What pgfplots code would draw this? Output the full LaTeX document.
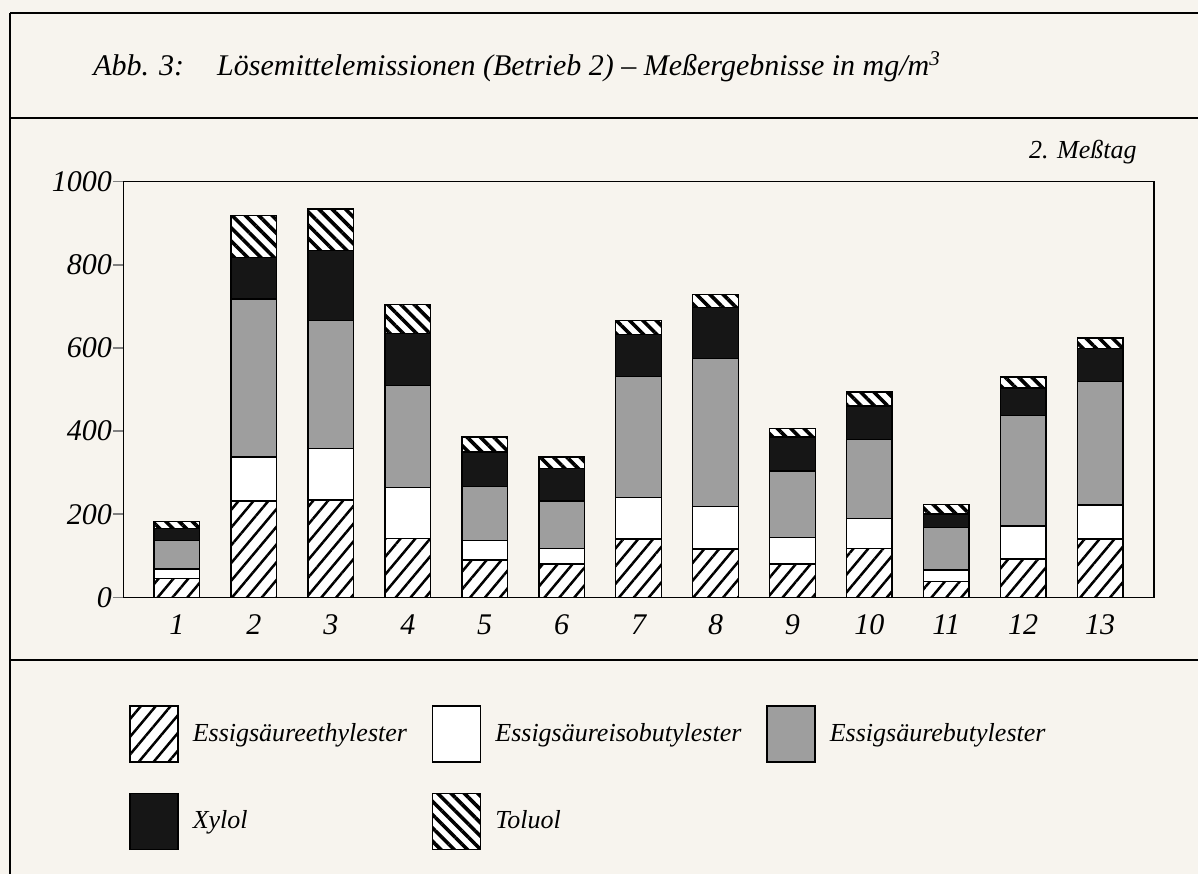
\documentclass[border=0pt]{standalone}
\usepackage{fontspec}
\setmainfont{Liberation Serif}
\usepackage{pgfplots}
\usepackage{pgfplotstable}
\pgfplotsset{compat=1.18}
\usetikzlibrary{patterns.meta}
\definecolor{bg}{RGB}{247,244,238}
\definecolor{butyl}{RGB}{158,158,158}
\definecolor{xyl}{RGB}{22,22,22}

\pgfplotstableread{
x  eth iso but xyl tol
1  46  22  68  30  16
2  232 106 380 100 100
3  234 124 308 169 99
4  142 122 246 125 69
5  90  46  130 84  36
6  80  38  114 78  28
7  140 100 292 100 34
8  116 102 356 124 30
9  80  64  160 82  20
10 118 72  190 80  34
11 38  28  102 32  24
12 92  80  266 66  26
13 140 82  298 78  26
}\data

\pgfplotsset{
  legbox/.style={/pgfplots/legend image code/.code={\draw[##1, line width=0.7pt] (0pt,-14pt) rectangle (24pt,14pt);}},
}

\begin{document}
\begin{tikzpicture}
\useasboundingbox (0pt,0pt) rectangle (599pt,-437pt);
\fill[bg] (0pt,0pt) rectangle (599pt,-437pt);
% frame
\draw[line width=1pt] (5pt,-6.35pt) -- (599pt,-6.35pt);
\draw[line width=1pt] (5pt,-59pt) -- (599pt,-59pt);
\draw[line width=1pt] (5pt,-330pt) -- (599pt,-330pt);
\draw[line width=1pt] (5pt,-6.35pt) -- (5pt,-437pt);
\node[anchor=west, inner sep=0pt, font=\fontsize{15}{17}\selectfont\itshape] at (46.5pt,-33.5pt)
  {Abb. 3:\hspace{1.1em}Lösemittelemissionen (Betrieb 2) – Meßergebnisse in mg/m\textsuperscript{3}};
\node[anchor=east, inner sep=0pt, font=\fontsize{13}{15}\selectfont\itshape] at (568.5pt,-76pt) {2. Meßtag};

\begin{axis}[
  at={(61.65pt,-298.65pt)}, anchor=south west, scale only axis,
  width=515.35pt, height=207.8pt,
  ybar stacked, bar width=22.8pt,
  xmin=0.302, xmax=13.70, ymin=0, ymax=1000,
  xtick={1,...,13}, xticklabels={1,2,3,4,5,6,7,8,9,10,11,12,13},
  ytick={0,200,...,1000}, yticklabels={0,200,400,600,800,1000},
  xtick style={draw=none},
  ytick style={line width=0.7pt},
  ytick pos=left,
  tick align=outside, major tick length=5pt,
  axis line style={line width=0.75pt},
  ticklabel style={font=\fontsize{15}{18}\selectfont\itshape},
  yticklabel style={inner sep=0.5pt},
  legend columns=3,
  legend cell align=left,
  legend style={draw=none, fill=none, at={(axis description cs:0.0055,-0.259)}, anchor=north west,
    font=\fontsize{13}{15}\selectfont\itshape,
    /tikz/every odd column/.append style={column sep=5pt},
    /tikz/every even column/.append style={column sep=10.5pt},
    row sep=15pt, inner sep=0pt},
]
\addplot[legbox, draw=black, line width=0.7pt, fill=white,
  postaction={pattern={Lines[angle=50,distance=5.7pt,line width=1.25pt]}}] table[x=x,y=eth]{\data};
\addplot[legbox, draw=black, line width=0.7pt, fill=white] table[x=x,y=iso]{\data};
\addplot[legbox, draw=black, line width=0.7pt, fill=butyl] table[x=x,y=but]{\data};
\addplot[legbox, draw=black, line width=0.7pt, fill=xyl] table[x=x,y=xyl]{\data};
\addplot[legbox, draw=black, line width=0.7pt, fill=white,
  postaction={pattern={Lines[angle=-45,distance=4.7pt,line width=1.8pt]}}] table[x=x,y=tol]{\data};
\legend{Essigsäureethylester, Essigsäureisobutylester, Essigsäurebutylester, Xylol, Toluol}
\end{axis}
\end{tikzpicture}
\end{document}
